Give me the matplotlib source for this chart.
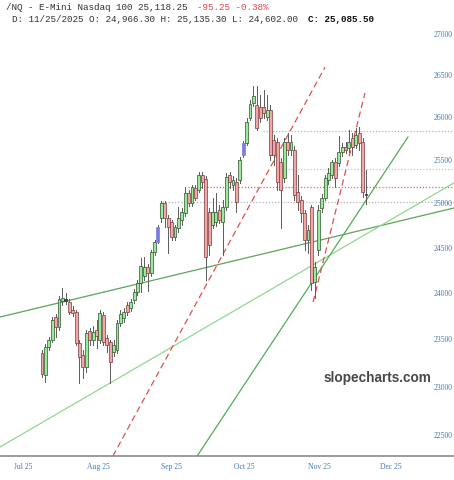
import matplotlib.pyplot as plt
from matplotlib.ticker import NullLocator

# daily bars, Jul 11 .. Nov 25
opens = [23358, 23124, 23420, 23495, 23741, 23633, 23915, 23937, 23904, 23817,
         23796, 23463, 23335, 23208, 23590, 23495, 23601, 23495, 23763, 23516,
         23473, 23367, 23388, 23676, 23731, 23872, 23839, 23926, 24013, 24111,
         24188, 24287, 24221, 24453, 24565, 24834, 25004, 24834, 24789, 24620,
         24721, 24811, 24890, 25118, 25004, 25175, 25152, 25324, 25278, 24902,
         24755, 24789, 24924, 24789, 24958, 25324, 25210, 25244, 25267, 25555,
         25695, 25988, 26166, 26142, 26118, 26118, 26000, 26083, 25730, 25706,
         25474, 25290, 25706, 25613, 25613, 25130, 25038, 24890, 24587, 24958,
         24122, 24476, 24947, 25061, 25267, 25324, 25474, 25463, 25590, 25648,
         25636, 25753, 25671, 25811, 25706, 25107]
highs = [23388, 23452, 23527, 23741, 23774, 23970, 24057, 24002, 23937, 23861,
         23817, 23495, 23388, 23601, 23622, 23644, 23709, 23817, 23796, 23548,
         23495, 23495, 23709, 23817, 23839, 23904, 23937, 24046, 24144, 24386,
         24397, 24320, 24476, 24587, 24755, 25027, 25027, 24868, 24811, 24755,
         24958, 24947, 25187, 25152, 25210, 25210, 25359, 25359, 25313, 24947,
         25061, 25118, 24981, 25038, 25347, 25359, 25313, 25290, 25532, 25718,
         25988, 26202, 26369, 26369, 26261, 26321, 26261, 26142, 25788, 25753,
         25520, 25753, 25811, 25788, 25660, 25324, 25084, 24924, 24755, 24981,
         24342, 24981, 25107, 25324, 25405, 25497, 25520, 25776, 25695, 25706,
         25847, 25811, 25870, 25882, 25753, 25382]
lows = [23102, 23050, 23388, 23473, 23527, 23601, 23872, 23883, 23774, 23752,
        23441, 23040, 23092, 23155, 23441, 23441, 23409, 23463, 23441, 23367,
        23040, 23324, 23356, 23644, 23687, 23763, 23806, 23893, 23981, 24013,
        24144, 24024, 24188, 24420, 24554, 24789, 24733, 24442, 24587, 24587,
        24676, 24755, 24856, 24970, 24970, 25038, 25130, 25175, 24144, 24420,
        24721, 24744, 24777, 24420, 24924, 25175, 25152, 24902, 25233, 25532,
        25671, 25965, 26130, 25847, 25941, 25988, 25965, 25497, 25440, 25152,
        24722, 25244, 25555, 25555, 25038, 24924, 24789, 24476, 24442, 24035,
        23948, 24420, 24902, 25038, 25221, 25290, 25187, 25428, 25543, 25578,
        25590, 25555, 25636, 25613, 25072, 24993]
closes = [23134, 23420, 23495, 23709, 23633, 23937, 23948, 23915, 23796, 23785,
          23463, 23314, 23208, 23569, 23495, 23580, 23537, 23785, 23473, 23441,
          23261, 23441, 23676, 23774, 23796, 23796, 23904, 24013, 24111, 24298,
          24287, 24221, 24453, 24565, 24733, 25004, 24834, 24733, 24620, 24733,
          24834, 24902, 25118, 25004, 25187, 25061, 25324, 25244, 24398, 24531,
          24902, 24902, 24811, 24958, 25301, 25244, 25267, 25015, 25497, 25695,
          25941, 26154, 26249, 25870, 25988, 26047, 26083, 25555, 25555, 25244,
          25152, 25706, 25613, 25706, 25095, 25015, 24890, 24587, 24699, 24111,
          24287, 24924, 25061, 25290, 25347, 25474, 25290, 25590, 25648, 25613,
          25706, 25648, 25788, 25695, 25130, 25095]
blue_bars = [34, 59]

price_ticks = [22500, 23000, 23500, 24000, 24500, 25000, 25500, 26000, 26500, 27000]
month_labels = ["Jul 25", "Aug 25", "Sep 25", "Oct 25", "Nov 25", "Dec 25"]
month_pos = [-5.6, 16.4, 38.1, 59.2, 81.2, 102.3]

# drawn lines: (bar, price) -> (bar, price)
green_lines = [((-12.3, 23741), (120.8, 24947)),
               ((-12.3, 22379), (120.8, 25233)),
               ((45.5, 22288), (107.3, 25765))]
green_colors = ["#5da35d", "#8fd88f", "#4fae4f"]
red_dashed = [((20.8, 22288), (83.0, 26598)),
              ((79.5, 23904), (94.7, 26286))]
# horizontal levels: price, start bar
levels = [25835, 25390, 25190, 25010]
level_start = [64.8, 70.4, 42.8, 35.2]
level_colors = ["#b5b5b5", "#a8d8a0", "#e06a6a", "#b5b5b5"]

fig = plt.figure(figsize=(4.54, 4.8), dpi=100)
ax = fig.add_axes([0, 24 / 480, 1, 456 / 480])
ax.set_yscale("log")
ax.set_xlim(-12.3, 120.8)
ax.set_ylim(22288, 27420)

for lv, st, col in zip(levels, level_start, level_colors):
    ax.plot([st, 120.8], [lv, lv], color=col, lw=0.9, ls=(0, (1, 1.5)), zorder=1)

for (p0, p1), col in zip(green_lines, green_colors):
    ax.plot([p0[0], p1[0]], [p0[1], p1[1]], color=col, lw=0.9, zorder=2)
for p0, p1 in red_dashed:
    ax.plot([p0[0], p1[0]], [p0[1], p1[1]], color="#d9534f", lw=0.9,
            ls=(0, (5, 3)), zorder=2)

for i in range(len(opens)):
    o, h, l, c = opens[i], highs[i], lows[i], closes[i]
    ax.plot([i, i], [l, h], color="#5a5a5a", lw=0.7, zorder=3)
    if i in blue_bars:
        fc, ec = "#7b7be6", "#7b7be6"
    elif abs(c - o) < 30:
        fc, ec = "#444444", "#333333"
    elif c >= o:
        fc, ec = "#98ec98", "#2f4f2f"
    else:
        fc, ec = "#f2a7a7", "#7a3b3b"
    ax.bar(i, max(abs(c - o), 8), bottom=min(o, c), width=0.85,
           color=fc, edgecolor=ec, linewidth=0.5, zorder=4)

for s in ["top", "left", "right"]:
    ax.spines[s].set_visible(False)
ax.spines["bottom"].set_color("#8c8c8c")
ax.spines["bottom"].set_linewidth(1.2)

ax.set_yticks(price_ticks)
ax.set_yticklabels([str(p) for p in price_ticks])
ax.yaxis.set_minor_locator(NullLocator())
ax.tick_params(axis="y", which="both", length=0, labelleft=False, labelright=True,
               pad=-15, labelsize=5.5, labelcolor="#3f78b0")
ax.set_xticks(month_pos)
ax.set_xticklabels(month_labels)
ax.tick_params(axis="x", length=0, pad=5, labelsize=5.5, labelcolor="#3f78b0")
for t in ax.get_xticklabels() + ax.get_yticklabels():
    t.set_family("Liberation Serif")

mono = "Liberation Mono"
fs = 6.7
cw = 5.6  # px per char
fig.text(6.5 / 454, 1 - 7 / 480, "/NQ - E-Mini Nasdaq 100 25,118.25", family=mono,
         fontsize=fs, va="center", color="#333333")
fig.text((6.5 + 34 * cw) / 454, 1 - 7 / 480, "-95.25 -0.38%", family=mono,
         fontsize=fs, va="center", color="#e0474c")
fig.text(11.7 / 454, 1 - 19 / 480, "D: 11/25/2025 O: 24,966.30 H: 25,135.30 L: 24,602.00",
         family=mono, fontsize=fs, va="center", color="#333333")
fig.text((11.7 + 53 * cw) / 454, 1 - 19 / 480, "C: 25,085.50", family=mono,
         fontsize=fs, va="center", color="#111111", fontweight="bold")

fig.text(377 / 454, 1 - 378 / 480, "slopecharts.com", family="Liberation Sans",
         fontsize=9.8, fontweight="bold", color="#484848", ha="center", va="center")

fig.savefig("out.png", dpi=100)
